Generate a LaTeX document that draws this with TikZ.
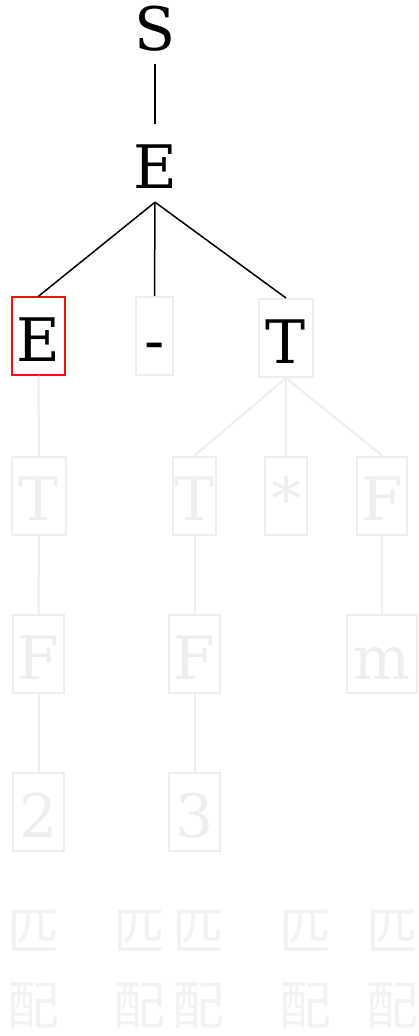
\documentclass[tikz,border=0pt]{standalone}
\usepackage{fontspec}
\setmainfont{DejaVu Serif}
\newfontfamily\cjk{Noto Sans CJK SC}
\definecolor{faint}{HTML}{EEEEEE}
\definecolor{fainttag}{HTML}{F2F2F2}
\definecolor{hilite}{HTML}{EE1111}
\begin{document}
\begin{tikzpicture}[x=1pt,y=-1pt,
  sym/.style={inner sep=0pt, minimum height=78pt, text height=50pt, text depth=0pt,
              font=\fontsize{60}{60}\selectfont},
  done/.style={sym, text=black},
  active/.style={sym, draw=hilite, line width=1.5pt, text=black},
  pending/.style={sym, draw=faint, line width=2pt, text=faint},
  edge/.style={draw=black, line width=1.5pt},
  pedge/.style={draw=faint, line width=2pt},
  tag/.style={inner sep=0pt, text=fainttag, font=\cjk\fontsize{52}{52}\selectfont}]
\useasboundingbox (0,0) rectangle (418,1036);

% parse tree nodes
\node[done] (s) at (155,25) {S};
\node[done] (e0) at (155,163) {E};
\node[active, minimum width=53pt] (e1) at (38.5,336) {E};
\node[pending, minimum width=37pt, text=black] (minus) at (154.5,336) {-};
\node[pending, minimum width=54pt, text=black] (t1) at (286,338) {T};

\node[pending, minimum width=54pt] (t2) at (39,495.5) {T};
\node[pending, minimum width=43pt] (t3) at (194.5,495.5) {T};
\node[pending, minimum width=42pt] (star) at (286,495.5) {*};
\node[pending, minimum width=50pt] (f1) at (382,495.5) {F};

\node[pending, minimum width=51pt] (f2) at (38.5,654) {F};
\node[pending, minimum width=51pt] (f3) at (194.5,654) {F};
\node[pending, minimum width=70pt] (m) at (382,654) {m};

\node[pending, minimum width=51pt] (n2) at (38.5,812) {2};
\node[pending, minimum width=51pt] (n3) at (194.5,812) {3};

% expanded edges
\draw[edge] (s.south) -- (e0.north);
\draw[edge] (e0.south) -- (e1.north);
\draw[edge] (e0.south) -- (minus.north);
\draw[edge] (e0.south) -- (t1.north);

% edges not yet reached
\draw[pedge] (e1.south) -- (t2.north);
\draw[pedge] (t2.south) -- (f2.north);
\draw[pedge] (f2.south) -- (n2.north);
\draw[pedge] (t1.south) -- (t3.north);
\draw[pedge] (t1.south) -- (star.north);
\draw[pedge] (t1.south) -- (f1.north);
\draw[pedge] (t3.south) -- (f3.north);
\draw[pedge] (f3.south) -- (n3.north);
\draw[pedge] (f1.south) -- (m.north);

% match labels under the leaves
\foreach \x [count=\i] in {33,139,198,305,392} {
  \node[tag] (pi\i) at (\x,931) {匹};
  \node[tag] (pei\i) at (\x,1006) {配};
}
\end{tikzpicture}
\end{document}
